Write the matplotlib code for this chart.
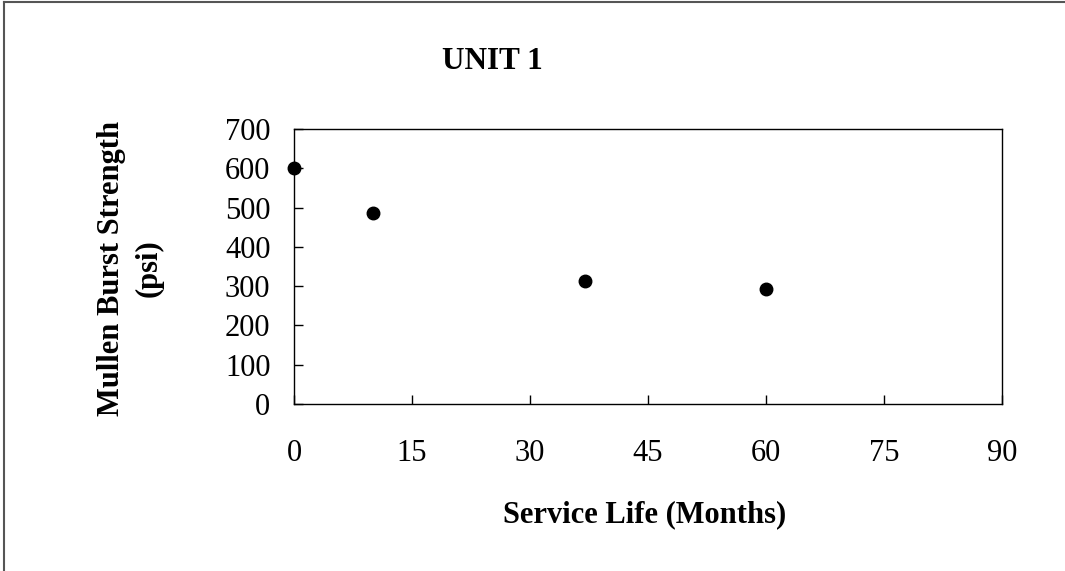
import matplotlib
matplotlib.use("Agg")
import matplotlib.pyplot as plt
from matplotlib.lines import Line2D

months = [0, 10, 37, 60]
burst_psi = [600, 487, 312, 293]
x_ticks = [0, 15, 30, 45, 60, 75, 90]
y_ticks = [0, 100, 200, 300, 400, 500, 600, 700]

plt.rcParams['font.family'] = ['Liberation Serif', 'DejaVu Serif']

W, H = 1065, 571
fig = plt.figure(figsize=(W / 100, H / 100), dpi=100)
L, R, T, B = 294, 1002, 129, 404
ax = fig.add_axes([L / W, 1 - B / H, (R - L) / W, (B - T) / H])

ax.plot(months, burst_psi, linestyle='none', marker='o', markersize=9,
        color='black', clip_on=False, zorder=5)
ax.set_xlim(0, 90)
ax.set_ylim(0, 700)
ax.set_xticks(x_ticks)
ax.set_yticks(y_ticks)
ax.tick_params(axis='both', direction='in', length=6.5, width=1, labelsize=22,
               color='black')
ax.tick_params(axis='x', pad=25)
ax.tick_params(axis='y', pad=17)
for s in ax.spines.values():
    s.set_linewidth(1.0)
    s.set_color('black')

fig.text(492 / W, 1 - 69 / H, 'UNIT 1', ha='center', va='baseline',
         fontsize=22.5, fontweight='bold')
fig.text(645 / W, 1 - 522 / H, 'Service Life (Months)', ha='center',
         va='baseline', fontsize=22, fontweight='bold')
fig.text(130 / W, 1 - 268 / H, 'Mullen Burst Strength\n(psi)', ha='center',
         va='center', rotation=90, multialignment='center', fontsize=22,
         fontweight='bold', linespacing=1.4)

# outer frame (left and top edges visible)
fig.add_artist(Line2D([4.5 / W, 4.5 / W], [0, 1 - 1.5 / H],
                      transform=fig.transFigure, color='#555555', linewidth=1.5))
fig.add_artist(Line2D([4.5 / W, 1], [1 - 1.5 / H, 1 - 1.5 / H],
                      transform=fig.transFigure, color='#555555', linewidth=1.5))

fig.savefig('out.png', dpi=100)
